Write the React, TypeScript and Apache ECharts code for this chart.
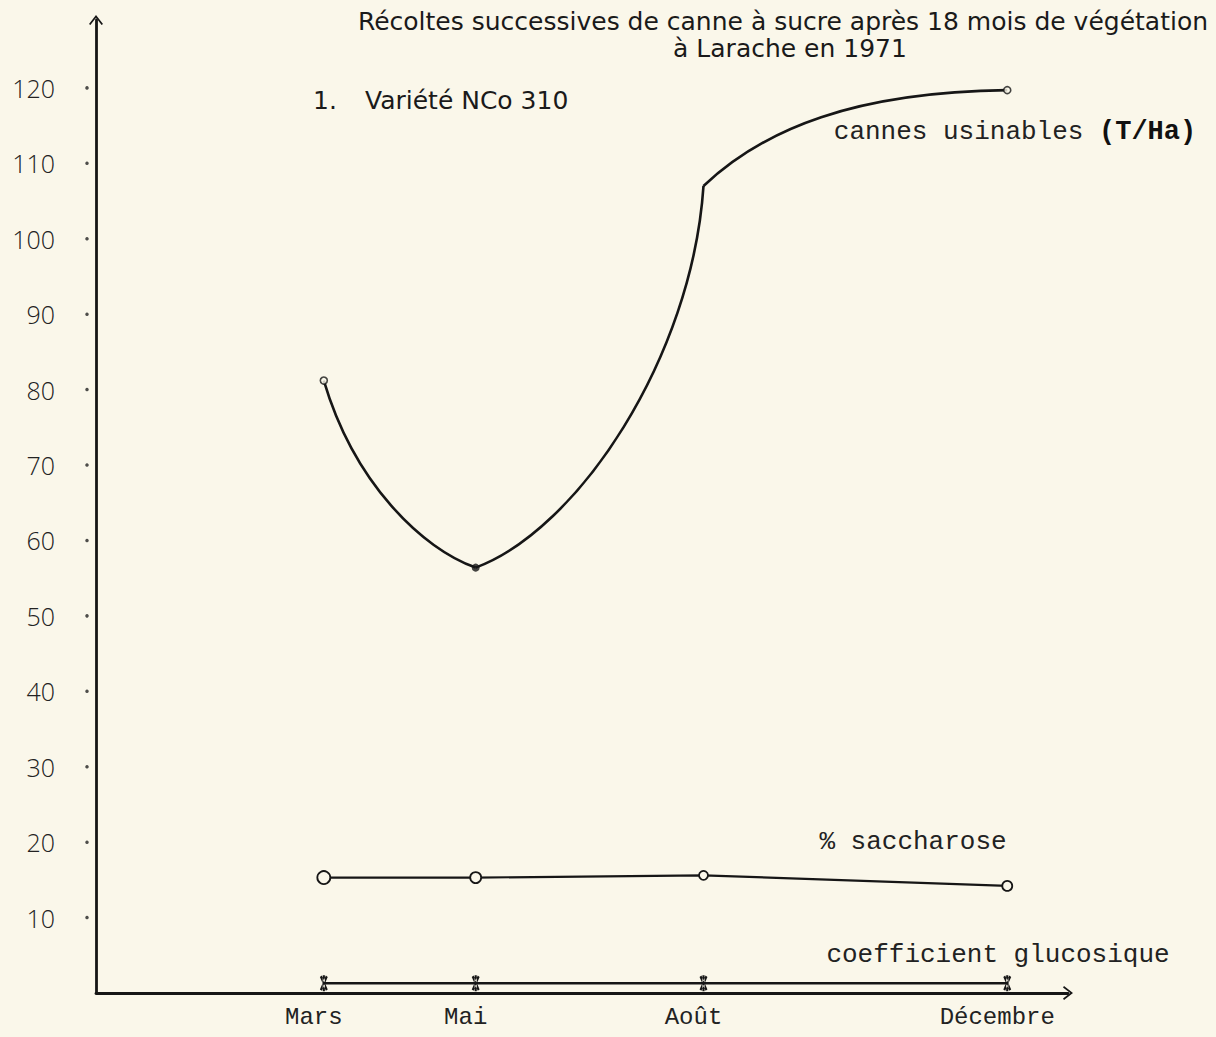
import React, { useEffect, useRef } from 'react';
import * as echarts from 'echarts';

// ---- data ----
const months = [3, 5, 8, 12];
const monthLabels = ['Mars', 'Mai', 'Août', 'Décembre'];
const cannes = [81.2, 56.4, 107, 119.7];
const saccharose = [15.3, 15.3, 15.6, 14.2];
const glucosique = [1.3, 1.3, 1.3, 1.3];
const yTicks = [10, 20, 30, 40, 50, 60, 70, 80, 90, 100, 110, 120];
const titleLines = [
  'Récoltes successives de canne à sucre après 18 mois de végétation',
  'à Larache en 1971',
];
const subtitleNum = '1.';
const subtitleText = 'Variété NCo 310';
const cannesLabel = 'cannes usinables ';
const cannesUnit = '(T/Ha)';
const saccharoseLabel = '% saccharose';
const glucosiqueLabel = 'coefficient glucosique';

// ---- styles ----
const BG = '#faf7ea';
const INK = '#161616';
const cannesSymbols = [
  { symbol: 'circle', size: 7, filled: false },
  { symbol: 'circle', size: 8, filled: true },
  { symbol: 'none', size: 0, filled: true },
  { symbol: 'circle', size: 7, filled: false },
];
// hand-drawn curve shape: control-point fractions of each segment's span
// [c1x, c1y, c2x, c2y] : c1 = p0 + f*(p1-p0), c2 = p1 - f*(p1-p0)
const curveShape = [
  [0.2, 0.55, 0.35, 0.1],
  [0.45, 0.1, 0.05, 0.45],
  [0.2, 0.6, 0.5, 0.02],
];
const saccharoseSizes = [13, 11, 9, 10];

const ASTERISK =
  'path://M-0.9,-5L0.9,-5L0.9,5L-0.9,5Z' +
  'M1.72,4.78L3.28,3.88L-1.72,-4.78L-3.28,-3.88Z' +
  'M3.28,-3.88L1.72,-4.78L-3.28,3.88L-1.72,4.78Z';
const CHEVRON = 'path://M0,0L7,9L5.6,10L0,2.8L-5.6,10L-7,9Z';

export default function App() {
  const ref = useRef<HTMLDivElement>(null);

  useEffect(() => {
    document.body.style.margin = '0';
    document.body.style.background = BG;
    if (!ref.current) return;
    const chart = echarts.init(ref.current, undefined, { renderer: 'svg' });

    const mono = '"Liberation Mono", "DejaVu Sans Mono", monospace';
    const sans = '"DejaVu Sans", "Liberation Sans", sans-serif';

    const segments = months.slice(0, -1).map((m, i) => [m, cannes[i], months[i + 1], cannes[i + 1]]);

    const option: any = {
      animation: false,
      backgroundColor: BG,
      grid: { left: 96, right: 148, top: 20, bottom: 44, containLabel: false },
      xAxis: {
        type: 'value',
        min: 0,
        max: 12.8,
        interval: 1,
        axisLine: {
          show: true,
          lineStyle: { color: INK, width: 2.8 },
          symbol: ['none', CHEVRON],
          symbolSize: [14, 12],
        },
        axisTick: { show: false },
        splitLine: { show: false },
        axisLabel: {
          margin: 12,
          fontFamily: mono,
          fontSize: 24,
          color: '#222',
          padding: [0, 20, 0, 0],
          formatter: (v: number) => {
            const i = months.indexOf(v);
            return i >= 0 ? monthLabels[i] : '';
          },
        },
      },
      yAxis: {
        type: 'value',
        min: 0,
        max: 129,
        interval: 10,
        axisLine: {
          show: true,
          lineStyle: { color: INK, width: 2.8 },
          symbol: ['none', CHEVRON],
          symbolSize: [14, 12],
        },
        axisTick: { show: false },
        splitLine: { show: false },
        axisLabel: {
          margin: 41,
          fontFamily: '"Open Sans", "DejaVu Sans", sans-serif',
          fontWeight: 300,
          fontSize: 25,
          color: '#222',
          padding: [0, 0, 12, 0],
          formatter: (v: number) => (yTicks.indexOf(v) >= 0 ? String(v) : ''),
        },
      },
      series: [
        {
          name: 'ticks',
          type: 'scatter',
          clip: false,
          silent: true,
          symbol: 'circle',
          symbolSize: 3.5,
          symbolOffset: [-9, 0],
          itemStyle: { color: '#222' },
          data: yTicks.map((t) => [0, t]),
          z: 5,
        },
        {
          name: 'cannes usinables (T/Ha)',
          type: 'custom',
          clip: false,
          silent: true,
          encode: { x: [0, 2], y: [1, 3] },
          data: segments,
          renderItem: (params: any, api: any) => {
            const p0 = api.coord([api.value(0), api.value(1)]);
            const p1 = api.coord([api.value(2), api.value(3)]);
            const f = curveShape[params.dataIndex];
            const dx = p1[0] - p0[0];
            const dy = p1[1] - p0[1];
            return {
              type: 'bezierCurve',
              shape: {
                x1: p0[0],
                y1: p0[1],
                x2: p1[0],
                y2: p1[1],
                cpx1: p0[0] + f[0] * dx,
                cpy1: p0[1] + f[1] * dy,
                cpx2: p1[0] - f[2] * dx,
                cpy2: p1[1] - f[3] * dy,
              },
              style: { stroke: INK, lineWidth: 2.6, fill: null },
            };
          },
          z: 3,
        },
        {
          name: 'cannes points',
          type: 'scatter',
          silent: true,
          data: months.map((m, i) => {
            const s = cannesSymbols[i];
            return {
              value: [m, cannes[i]],
              symbol: s.symbol,
              symbolSize: s.size,
              itemStyle: s.filled
                ? { color: INK }
                : { color: BG, borderColor: INK, borderWidth: 1.6 },
            };
          }),
          z: 4,
        },
        {
          name: '% saccharose',
          type: 'line',
          lineStyle: { color: INK, width: 2.2 },
          data: months.map((m, i) => ({
            value: [m, saccharose[i]],
            symbol: 'circle',
            symbolSize: saccharoseSizes[i],
            itemStyle: { color: BG, borderColor: INK, borderWidth: 1.8 },
          })),
          z: 3,
        },
        {
          name: 'coefficient glucosique',
          type: 'line',
          lineStyle: { color: INK, width: 2.6 },
          symbol: ASTERISK,
          symbolSize: [12, 16],
          symbolKeepAspect: true,
          itemStyle: { color: INK },
          data: months.map((m, i) => [m, glucosique[i]]),
          z: 3,
        },
      ],
      graphic: [
        {
          type: 'text',
          x: 783,
          y: 21,
          style: {
            text: titleLines[0],
            font: `25px ${sans}`,
            fill: '#1a1a1a',
            align: 'center',
            verticalAlign: 'middle',
          },
        },
        {
          type: 'text',
          x: 790,
          y: 48,
          style: {
            text: titleLines[1],
            font: `25px ${sans}`,
            fill: '#1a1a1a',
            align: 'center',
            verticalAlign: 'middle',
          },
        },
        {
          type: 'text',
          x: 313,
          y: 100,
          style: {
            text: subtitleNum,
            font: `25px ${sans}`,
            fill: '#1a1a1a',
            align: 'left',
            verticalAlign: 'middle',
          },
        },
        {
          type: 'text',
          x: 365,
          y: 100,
          style: {
            text: subtitleText,
            font: `25px ${sans}`,
            fill: '#1a1a1a',
            align: 'left',
            verticalAlign: 'middle',
          },
        },
        {
          type: 'text',
          x: 1015,
          y: 132,
          style: {
            text: `{a|${cannesLabel}}{b|${cannesUnit}}`,
            align: 'center',
            verticalAlign: 'middle',
            rich: {
              a: { fontFamily: mono, fontSize: 26, fill: '#222', color: '#222' },
              b: { fontFamily: mono, fontSize: 27, fontWeight: 'bold', fill: '#111', color: '#111' },
            },
          },
        },
        {
          type: 'text',
          x: 913,
          y: 842,
          style: {
            text: saccharoseLabel,
            font: `26px ${mono}`,
            fill: '#222',
            align: 'center',
            verticalAlign: 'middle',
          },
        },
        {
          type: 'text',
          x: 998,
          y: 955,
          style: {
            text: glucosiqueLabel,
            font: `26px ${mono}`,
            fill: '#222',
            align: 'center',
            verticalAlign: 'middle',
          },
        },
      ],
    };

    chart.setOption(option);
    return () => chart.dispose();
  }, []);

  return (
    <div
      ref={ref}
      style={{ position: 'fixed', left: 0, top: 0, width: 1216, height: 1037, background: BG }}
    />
  );
}
